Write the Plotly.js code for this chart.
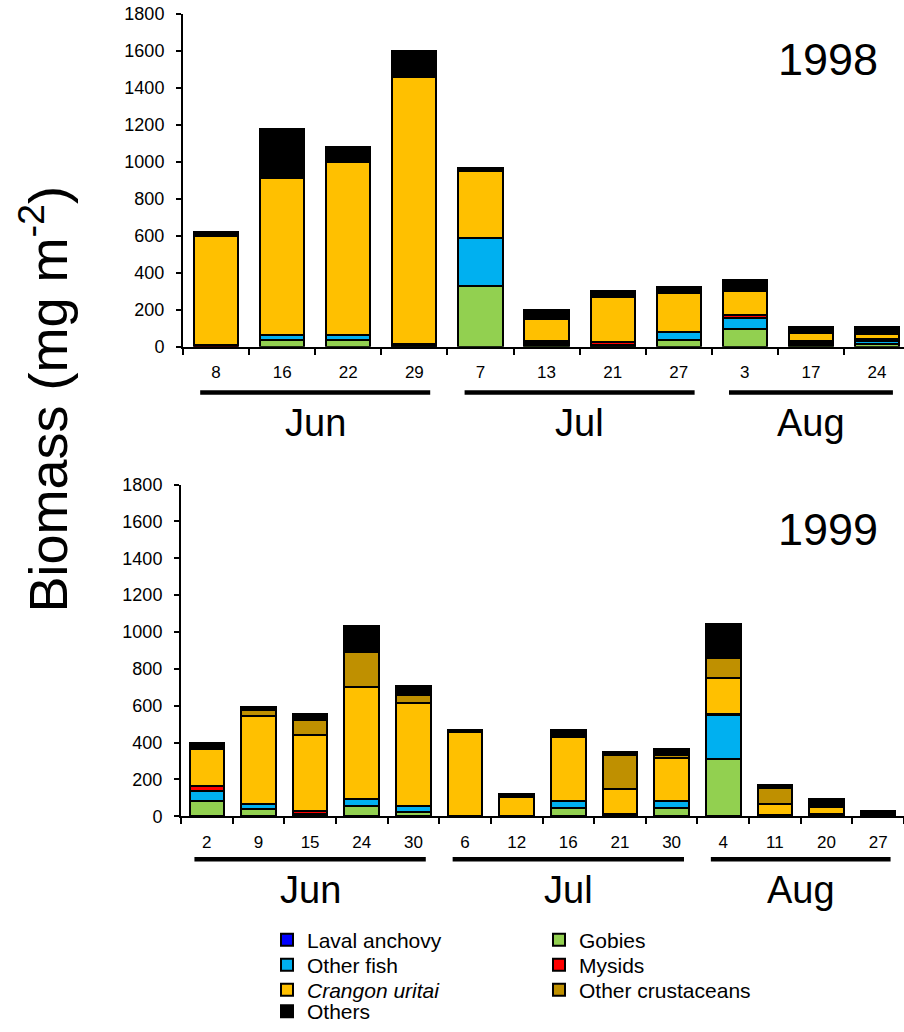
<!DOCTYPE html>
<html><head><meta charset="utf-8">
<script src="https://cdn.plot.ly/plotly-3.0.1.min.js"></script>
<style>body{margin:0;background:#fff;} #chart{width:904px;height:1032px;}</style>
</head><body><div id="chart"></div>
<script>
// ---- data ----
const seriesNames = ["Laval anchovy", "Gobies", "Other fish", "Mysids", "<i>Crangon uritai</i>", "Other crustaceans", "Others"];
const seriesColors = ["#0000FF", "#92D050", "#00B0F0", "#FF0000", "#FFC000", "#BF9000", "#000000"];
// legend row each series appears in (two entries per row, as in the reference)
const legendRows = ["legend", "legend", "legend2", "legend2", "legend3", "legend3", "legend4"];

const months = ["Jun", "Jul", "Aug"];

// 1998
const dates1998 = ["Jun 8", "Jun 16", "Jun 22", "Jun 29", "Jul 7", "Jul 13", "Jul 21", "Jul 27", "Aug 3", "Aug 17", "Aug 24"];
const days1998 = ["8", "16", "22", "29", "7", "13", "21", "27", "3", "17", "24"];
const laval1998     = [0, 0, 0, 0, 0, 0, 0, 0, 0, 0, 0];
const gobies1998    = [0, 35, 35, 5, 330, 10, 5, 35, 95, 10, 17];
const otherFish1998 = [0, 30, 30, 5, 260, 10, 5, 45, 60, 10, 13];
const mysids1998    = [8, 0, 0, 5, 0, 10, 15, 0, 15, 10, 10];
const crangon1998   = [590, 845, 935, 1445, 360, 120, 245, 210, 130, 45, 28];
const otherCrus1998 = [0, 0, 0, 0, 0, 0, 10, 0, 8, 0, 10];
const others1998    = [22, 270, 80, 140, 15, 48, 22, 33, 50, 30, 27];

// 1999
const dates1999 = ["Jun 2", "Jun 9", "Jun 15", "Jun 24", "Jun 30", "Jul 6", "Jul 12", "Jul 16", "Jul 21", "Jul 30", "Aug 4", "Aug 11", "Aug 20", "Aug 27"];
const days1999 = ["2", "9", "15", "24", "30", "6", "12", "16", "21", "30", "4", "11", "20", "27"];
const laval1999     = [0, 0, 0, 0, 0, 0, 0, 0, 0, 0, 0, 0, 0, 0];
const gobies1999    = [82, 38, 8, 55, 22, 3, 0, 42, 5, 42, 308, 4, 5, 0];
const otherFish1999 = [55, 30, 5, 40, 35, 0, 0, 40, 0, 42, 240, 0, 0, 0];
const mysids1999    = [28, 0, 15, 0, 0, 0, 0, 0, 5, 0, 5, 5, 5, 0];
const crangon1999   = [200, 475, 412, 607, 555, 452, 105, 350, 140, 232, 195, 58, 42, 0];
const otherCrus1999 = [0, 35, 80, 190, 45, 0, 0, 0, 180, 15, 108, 88, 0, 0];
const others1999    = [30, 12, 33, 138, 52, 12, 18, 38, 17, 36, 185, 15, 44, 30];

const values1998 = [laval1998, gobies1998, otherFish1998, mysids1998, crangon1998, otherCrus1998, others1998];
const values1999 = [laval1999, gobies1999, otherFish1999, mysids1999, crangon1999, otherCrus1999, others1999];

// ---- build ----
const FONT = "Liberation Sans, Arial, sans-serif";
const traces = [];
seriesNames.forEach((name, i) => {
  traces.push({
    type: "bar", name: name, x: dates1998, y: values1998[i], xaxis: "x", yaxis: "y",
    width: 0.67, legendgroup: "g" + i, showlegend: true, legend: legendRows[i],
    marker: {color: seriesColors[i], line: {color: "#000", width: 2}}, hoverinfo: "skip"
  });
  traces.push({
    type: "bar", name: name, x: dates1999, y: values1999[i], xaxis: "x2", yaxis: "y2",
    width: 0.67, legendgroup: "g" + i, showlegend: false, legend: legendRows[i],
    marker: {color: seriesColors[i], line: {color: "#000", width: 2}}, hoverinfo: "skip"
  });
});

const W = 904, H = 1032, ML = 130;
const GW = W - ML;
const px = v => (v - ML) / GW;
const py = v => 1 - v / H;

function monthDecor(dates, xref, lineY, labelY) {
  const shapes = [], anns = [];
  months.forEach(m => {
    const idx = dates.map((d, k) => d.startsWith(m) ? k : -1).filter(k => k >= 0);
    const first = idx[0], last = idx[idx.length - 1];
    shapes.push({type: "line", xref: xref, yref: "paper", x0: first - 0.24, x1: last + 0.24,
      y0: py(lineY), y1: py(lineY), line: {color: "#000", width: 4.5}});
    anns.push({xref: xref, yref: "paper", x: (first + last) / 2, y: py(labelY), text: m,
      showarrow: false, xanchor: "center", yanchor: "middle", font: {family: FONT, size: 38, color: "#000"}});
  });
  return {shapes, anns};
}
const d98 = monthDecor(dates1998, "x", 393, 423);
const d99 = monthDecor(dates1999, "x2", 860, 891);

const xBase = {
  type: "category", tickmode: "array", ticks: "outside", tickson: "boundaries", ticklen: 6, tickwidth: 2,
  tickcolor: "#000", showline: true, linewidth: 2, linecolor: "#000", showgrid: false, zeroline: false,
  tickfont: {family: FONT, size: 17, color: "#000"}, ticklabelstandoff: 9, fixedrange: true
};
const yBase = {
  range: [0, 1800], dtick: 200, ticks: "outside", ticklen: 5, tickwidth: 2, tickcolor: "#000",
  showline: true, linewidth: 2, linecolor: "#000", showgrid: false, zeroline: false,
  tickfont: {family: FONT, size: 18, color: "#000"}, ticklabelstandoff: 8, fixedrange: true
};

function legendRow(yCenter) {
  return {orientation: "h", x: px(267), xanchor: "left", y: py(yCenter), yanchor: "middle",
    traceorder: "normal", entrywidth: 227, entrywidthmode: "pixels",
    font: {family: FONT, size: 21, color: "#000"}, bgcolor: "rgba(0,0,0,0)", borderwidth: 0};
}

const layout = {
  width: W, height: H, margin: {l: ML, r: 0, t: 0, b: 0},
  paper_bgcolor: "#fff", plot_bgcolor: "rgba(0,0,0,0)",
  barmode: "stack",
  font: {family: FONT, color: "#000"},
  xaxis: Object.assign({}, xBase, {domain: [px(183), 1], anchor: "y", range: [-0.5, -0.5 + 721 / 66.1],
    tickvals: dates1998, ticktext: days1998, categoryorder: "array", categoryarray: dates1998}),
  yaxis: Object.assign({}, yBase, {domain: [py(347), py(14)], anchor: "x"}),
  xaxis2: Object.assign({}, xBase, {domain: [px(181), 1], anchor: "y2", range: [-0.5, 13.5],
    tickvals: dates1999, ticktext: days1999, categoryorder: "array", categoryarray: dates1999}),
  yaxis2: Object.assign({}, yBase, {domain: [py(817), py(485)], anchor: "x2"}),
  showlegend: true,
  legend: legendRow(940),
  legend2: legendRow(965),
  legend3: legendRow(990),
  legend4: legendRow(1012),
  shapes: d98.shapes.concat(d99.shapes),
  annotations: d98.anns.concat(d99.anns).concat([
    {xref: "paper", yref: "paper", x: px(828), y: py(60), text: "1998", showarrow: false,
      xanchor: "center", yanchor: "middle", font: {family: FONT, size: 45, color: "#000"}},
    {xref: "paper", yref: "paper", x: px(828), y: py(530), text: "1999", showarrow: false,
      xanchor: "center", yanchor: "middle", font: {family: FONT, size: 45, color: "#000"}},
    {xref: "paper", yref: "paper", x: px(44), y: py(400), text: "Biomass (mg m<sup>-2</sup>)", showarrow: false,
      textangle: -90, xanchor: "center", yanchor: "middle", font: {family: FONT, size: 54, color: "#000"}}
  ])
};

Plotly.newPlot("chart", traces, layout, {staticPlot: true, displayModeBar: false});
</script>
</body></html>
